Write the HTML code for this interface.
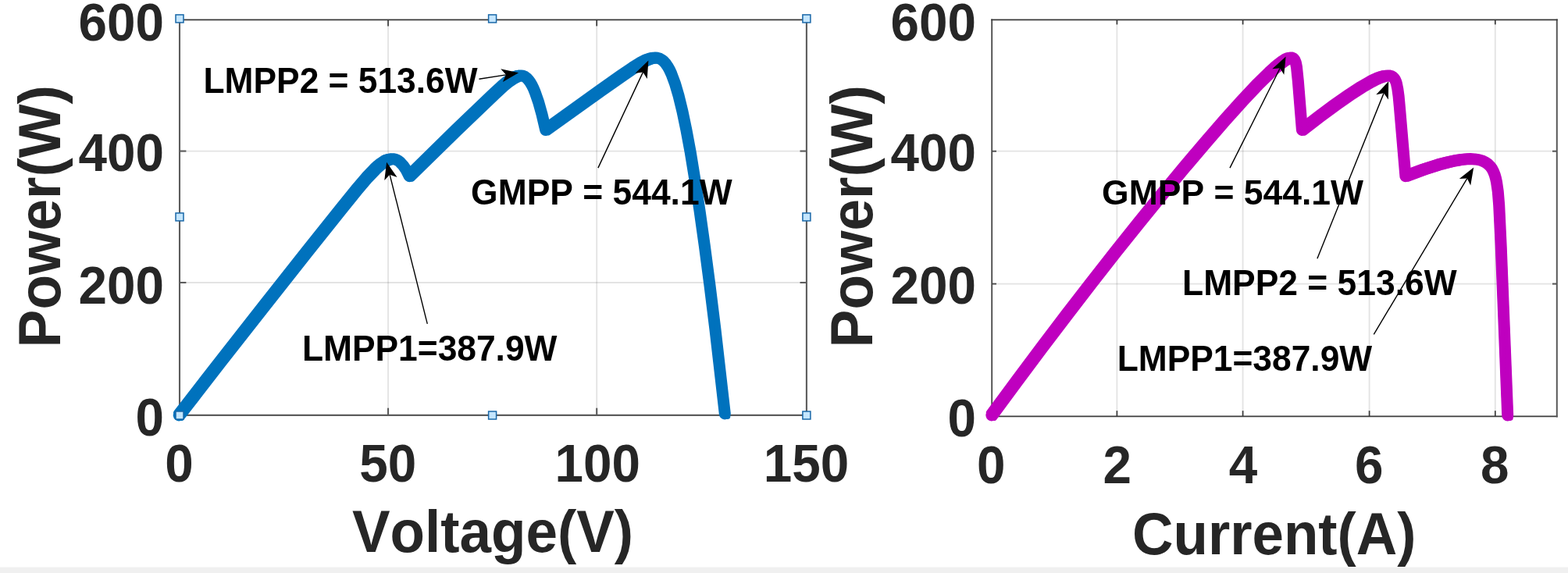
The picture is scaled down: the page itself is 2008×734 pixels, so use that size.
<!DOCTYPE html>
<html lang="en"><head><meta charset="utf-8"><title>P-V and P-I curves</title>
<style>
html,body{margin:0;padding:0;background:#fff;width:2008px;height:734px;overflow:hidden}
svg{display:block;font-family:"Liberation Sans",Arial,Helvetica,sans-serif;font-weight:bold;font-kerning:none}
text{font-kerning:none;white-space:pre}
</style></head><body>
<svg width="2008" height="734" viewBox="0 0 2008 734">
<rect width="2008" height="734" fill="#fff"/>
<rect x="0" y="726.6" width="2008" height="8" fill="#f0f0f0"/>
<text transform="translate(100.44 52.00) scale(1 1.0480)" font-size="65.60" fill="#262626">600</text><text transform="translate(100.44 219.40) scale(1 1.0480)" font-size="65.60" fill="#262626">400</text><text transform="translate(100.44 389.40) scale(1 1.0480)" font-size="65.60" fill="#262626">200</text><text transform="translate(173.41 558.10) scale(1 1.0480)" font-size="65.60" fill="#262626">0</text><text transform="translate(211.31 617.40) scale(1 1.0480)" font-size="65.60" fill="#262626">0</text><text transform="translate(460.30 617.40) scale(1 1.0480)" font-size="65.60" fill="#262626">50</text><text transform="translate(710.55 617.40) scale(1 1.0480)" font-size="65.60" fill="#262626">100</text><text transform="translate(977.85 617.40) scale(1 1.0480)" font-size="65.60" fill="#262626">150</text><text transform="translate(451.00 707.40) scale(1 1.0458)" font-size="72.83" fill="#262626">Voltage(V)</text><text transform="translate(77.30 445.17) rotate(-90) scale(1 1.0495)" font-size="72.85" fill="#262626">Power(W)</text><text transform="translate(1140.44 52.00) scale(1 1.0480)" font-size="65.60" fill="#262626">600</text><text transform="translate(1140.44 219.40) scale(1 1.0480)" font-size="65.60" fill="#262626">400</text><text transform="translate(1140.44 389.40) scale(1 1.0480)" font-size="65.60" fill="#262626">200</text><text transform="translate(1213.41 558.80) scale(1 1.0480)" font-size="65.60" fill="#262626">0</text><text transform="translate(1251.06 619.00) scale(1 1.0480)" font-size="65.60" fill="#262626">0</text><text transform="translate(1412.58 619.00) scale(1 1.0480)" font-size="65.60" fill="#262626">2</text><text transform="translate(1573.69 619.00) scale(1 1.0480)" font-size="65.60" fill="#262626">4</text><text transform="translate(1734.94 619.00) scale(1 1.0480)" font-size="65.60" fill="#262626">6</text><text transform="translate(1895.93 619.00) scale(1 1.0480)" font-size="65.60" fill="#262626">8</text><text transform="translate(1450.02 709.80) scale(1 1.0475)" font-size="72.71" fill="#262626">Current(A)</text><text transform="translate(1117.30 445.17) rotate(-90) scale(1 1.0495)" font-size="72.85" fill="#262626">Power(W)</text><line x1="497.05" y1="25.40" x2="497.05" y2="531.85" stroke="#262626" stroke-opacity="0.13" stroke-width="1.8"/><line x1="764.20" y1="25.40" x2="764.20" y2="531.85" stroke="#262626" stroke-opacity="0.13" stroke-width="1.8"/><line x1="230.00" y1="362.00" x2="1032.90" y2="362.00" stroke="#262626" stroke-opacity="0.13" stroke-width="1.8"/><line x1="230.00" y1="193.55" x2="1032.90" y2="193.55" stroke="#262626" stroke-opacity="0.13" stroke-width="1.8"/><line x1="230.00" y1="24.60" x2="230.00" y2="532.85" stroke="#5c5c5c" stroke-width="2.1"/><line x1="229.00" y1="531.85" x2="1033.90" y2="531.85" stroke="#5c5c5c" stroke-width="2.1"/><line x1="1032.90" y1="24.60" x2="1032.90" y2="532.85" stroke="#5c5c5c" stroke-width="2.1"/><line x1="229.00" y1="25.40" x2="1033.90" y2="25.40" stroke="#3a3a3a" stroke-width="1.7"/><path d="M497.05 531.85v-9.2" stroke="#5c5c5c" stroke-width="2.1"/><path d="M497.05 25.40v8.0" stroke="#3a3a3a" stroke-width="1.7"/><path d="M764.20 531.85v-9.2" stroke="#5c5c5c" stroke-width="2.1"/><path d="M764.20 25.40v8.0" stroke="#3a3a3a" stroke-width="1.7"/><path d="M230.00 362.00h8.4" stroke="#5c5c5c" stroke-width="2.1"/><path d="M1032.90 362.00h-8.4" stroke="#5c5c5c" stroke-width="2.1"/><path d="M230.00 193.55h8.4" stroke="#5c5c5c" stroke-width="2.1"/><path d="M1032.90 193.55h-8.4" stroke="#5c5c5c" stroke-width="2.1"/><g fill="none" stroke="#0072bd" stroke-linejoin="round" stroke-linecap="round"><path stroke-width="15.00" d="M229.2 531.9 L282.7 462.9 L336.3 394.5 L392.5 323.3 L438.0 266.2 L457.2 242.6 L470.2 227.3 L480.3 216.7 L484.6 212.7 L488.5 209.6 L494.0 206.0 L496.6 204.8 L499.0 204.1 L501.4 203.7 L503.6 203.7 L505.9 204.1 L508.0 204.8 L510.2 206.0 L512.2 207.6 L516.3 212.0 L520.3 217.9 L524.2 225.7 L584.5 166.6 L633.6 119.6 L643.4 110.6 L650.7 104.6 L656.6 100.5 L661.5 98.0 L664.4 97.1 L667.0 96.9 L669.6 97.2 L672.0 98.2 L674.3 99.8 L676.5 102.1 L678.7 105.0 L680.9 108.6 L683.1 113.0 L685.2 118.1 L689.6 130.8 L694.0 146.5 L698.7 166.5 L768.6 116.3 L795.4 97.5 L811.0 86.8 L820.7 80.7 L828.0 76.9 L834.0 74.7 L836.7 74.2 L839.2 74.0 L842.2 74.3 L845.0 75.2 L847.7 76.7 L850.2 78.8 L852.7 81.7 L855.1 85.2 L857.5 89.5 L859.8 94.5 L864.5 107.2 L869.2 123.2 L874.0 143.0 L878.9 166.6 L884.4 196.2 L890.0 230.6 L896.0 269.8 L902.2 314.0 L908.9 365.0 L915.9 421.5 L928.3 529.9"/><path stroke-width="6.80" transform="translate(-3.60 -3.60)" d="M229.2 531.9 L282.7 462.9 L336.3 394.5 L392.5 323.3 L438.0 266.2 L457.2 242.6 L470.2 227.3 L480.3 216.7 L484.6 212.7 L488.5 209.6 L494.0 206.0 L496.6 204.8 L499.0 204.1 L501.4 203.7 L503.6 203.7 L505.9 204.1 L508.0 204.8 L510.2 206.0 L512.2 207.6 L516.3 212.0 L520.3 217.9 L524.2 225.7 L584.5 166.6 L633.6 119.6 L643.4 110.6 L650.7 104.6 L656.6 100.5 L661.5 98.0 L664.4 97.1 L667.0 96.9 L669.6 97.2 L672.0 98.2 L674.3 99.8 L676.5 102.1 L678.7 105.0 L680.9 108.6 L683.1 113.0 L685.2 118.1 L689.6 130.8 L694.0 146.5 L698.7 166.5 L768.6 116.3 L795.4 97.5 L811.0 86.8 L820.7 80.7 L828.0 76.9 L834.0 74.7 L836.7 74.2 L839.2 74.0 L842.2 74.3 L845.0 75.2 L847.7 76.7 L850.2 78.8 L852.7 81.7 L855.1 85.2 L857.5 89.5 L859.8 94.5 L864.5 107.2 L869.2 123.2 L874.0 143.0 L878.9 166.6 L884.4 196.2 L890.0 230.6 L896.0 269.8 L902.2 314.0 L908.9 365.0 L915.9 421.5 L928.3 529.9"/><path stroke-width="6.80" transform="translate(3.60 3.60)" d="M229.2 531.9 L282.7 462.9 L336.3 394.5 L392.5 323.3 L438.0 266.2 L457.2 242.6 L470.2 227.3 L480.3 216.7 L484.6 212.7 L488.5 209.6 L494.0 206.0 L496.6 204.8 L499.0 204.1 L501.4 203.7 L503.6 203.7 L505.9 204.1 L508.0 204.8 L510.2 206.0 L512.2 207.6 L516.3 212.0 L520.3 217.9 L524.2 225.7 L584.5 166.6 L633.6 119.6 L643.4 110.6 L650.7 104.6 L656.6 100.5 L661.5 98.0 L664.4 97.1 L667.0 96.9 L669.6 97.2 L672.0 98.2 L674.3 99.8 L676.5 102.1 L678.7 105.0 L680.9 108.6 L683.1 113.0 L685.2 118.1 L689.6 130.8 L694.0 146.5 L698.7 166.5 L768.6 116.3 L795.4 97.5 L811.0 86.8 L820.7 80.7 L828.0 76.9 L834.0 74.7 L836.7 74.2 L839.2 74.0 L842.2 74.3 L845.0 75.2 L847.7 76.7 L850.2 78.8 L852.7 81.7 L855.1 85.2 L857.5 89.5 L859.8 94.5 L864.5 107.2 L869.2 123.2 L874.0 143.0 L878.9 166.6 L884.4 196.2 L890.0 230.6 L896.0 269.8 L902.2 314.0 L908.9 365.0 L915.9 421.5 L928.3 529.9"/></g><text transform="translate(260.53 118.80) scale(1 1.0262)" font-size="44.33" fill="#000">LMPP2 = 513.6W</text><text transform="translate(603.08 262.20) scale(1 1.0371)" font-size="44.43" fill="#000">GMPP = 544.1W</text><text transform="translate(386.93 461.75) scale(1 1.0304)" font-size="44.36" fill="#000">LMPP1=387.9W</text><line x1="1430.40" y1="25.40" x2="1430.40" y2="533.45" stroke="#262626" stroke-opacity="0.13" stroke-width="1.8"/><line x1="1591.60" y1="25.40" x2="1591.60" y2="533.45" stroke="#262626" stroke-opacity="0.13" stroke-width="1.8"/><line x1="1753.60" y1="25.40" x2="1753.60" y2="533.45" stroke="#262626" stroke-opacity="0.13" stroke-width="1.8"/><line x1="1914.80" y1="25.40" x2="1914.80" y2="533.45" stroke="#262626" stroke-opacity="0.13" stroke-width="1.8"/><line x1="1270.20" y1="363.60" x2="1993.80" y2="363.60" stroke="#262626" stroke-opacity="0.13" stroke-width="1.8"/><line x1="1270.20" y1="193.70" x2="1993.80" y2="193.70" stroke="#262626" stroke-opacity="0.13" stroke-width="1.8"/><line x1="1270.20" y1="24.60" x2="1270.20" y2="534.45" stroke="#484848" stroke-width="1.8"/><line x1="1269.20" y1="533.45" x2="1994.80" y2="533.45" stroke="#3c3c3c" stroke-width="1.7"/><line x1="1993.80" y1="24.60" x2="1993.80" y2="534.45" stroke="#585858" stroke-width="2.0"/><line x1="1269.20" y1="25.40" x2="1994.80" y2="25.40" stroke="#3a3a3a" stroke-width="1.7"/><path d="M1430.40 533.45v-7.3" stroke="#3c3c3c" stroke-width="1.7"/><path d="M1430.40 25.40v6.0" stroke="#3a3a3a" stroke-width="1.7"/><path d="M1591.60 533.45v-7.3" stroke="#3c3c3c" stroke-width="1.7"/><path d="M1591.60 25.40v6.0" stroke="#3a3a3a" stroke-width="1.7"/><path d="M1753.60 533.45v-7.3" stroke="#3c3c3c" stroke-width="1.7"/><path d="M1753.60 25.40v6.0" stroke="#3a3a3a" stroke-width="1.7"/><path d="M1914.80 533.45v-7.3" stroke="#3c3c3c" stroke-width="1.7"/><path d="M1914.80 25.40v6.0" stroke="#3a3a3a" stroke-width="1.7"/><path d="M1270.20 363.60h5.8" stroke="#484848" stroke-width="1.8"/><path d="M1993.80 363.60h-5.8" stroke="#585858" stroke-width="2.0"/><path d="M1270.20 193.70h5.8" stroke="#484848" stroke-width="1.8"/><path d="M1993.80 193.70h-5.8" stroke="#585858" stroke-width="2.0"/><g fill="none" stroke="#bf00bf" stroke-linejoin="round" stroke-linecap="round"><path stroke-width="15.00" d="M1930.7 531.9 L1922.1 313.2 L1919.7 262.9 L1918.3 245.5 L1916.5 233.1 L1915.4 228.1 L1914.1 223.6 L1912.5 219.7 L1910.8 216.3 L1908.2 212.8 L1905.3 210.0 L1901.9 207.7 L1898.0 205.9 L1893.5 204.6 L1888.5 203.9 L1882.8 203.6 L1876.4 203.9 L1869.3 204.8 L1861.6 206.2 L1853.1 208.1 L1843.9 210.5 L1823.4 217.0 L1799.9 225.7 L1792.4 137.4 L1791.1 123.3 L1789.9 114.4 L1788.4 106.9 L1787.5 104.2 L1786.5 101.9 L1785.2 100.1 L1783.8 98.7 L1782.1 97.7 L1780.2 97.1 L1777.5 96.9 L1774.2 97.2 L1770.5 98.1 L1766.3 99.6 L1761.4 101.7 L1755.9 104.5 L1743.3 111.7 L1728.1 121.6 L1710.2 134.1 L1690.1 149.0 L1667.4 166.5 L1662.3 103.4 L1660.5 86.0 L1659.4 80.3 L1657.9 76.7 L1657.0 75.5 L1656.0 74.6 L1654.8 74.1 L1653.4 74.0 L1650.6 74.5 L1647.2 76.0 L1643.1 78.6 L1638.3 82.2 L1632.6 87.0 L1626.1 92.9 L1610.5 108.3 L1591.1 128.9 L1568.6 153.9 L1543.5 182.8 L1516.2 215.0 L1488.1 248.9 L1458.8 285.0 L1428.5 322.9 L1397.6 362.4 L1366.1 403.2 L1334.3 445.1 L1302.2 488.1 L1269.9 531.9"/><path stroke-width="6.80" transform="translate(-3.60 -3.60)" d="M1930.7 531.9 L1922.1 313.2 L1919.7 262.9 L1918.3 245.5 L1916.5 233.1 L1915.4 228.1 L1914.1 223.6 L1912.5 219.7 L1910.8 216.3 L1908.2 212.8 L1905.3 210.0 L1901.9 207.7 L1898.0 205.9 L1893.5 204.6 L1888.5 203.9 L1882.8 203.6 L1876.4 203.9 L1869.3 204.8 L1861.6 206.2 L1853.1 208.1 L1843.9 210.5 L1823.4 217.0 L1799.9 225.7 L1792.4 137.4 L1791.1 123.3 L1789.9 114.4 L1788.4 106.9 L1787.5 104.2 L1786.5 101.9 L1785.2 100.1 L1783.8 98.7 L1782.1 97.7 L1780.2 97.1 L1777.5 96.9 L1774.2 97.2 L1770.5 98.1 L1766.3 99.6 L1761.4 101.7 L1755.9 104.5 L1743.3 111.7 L1728.1 121.6 L1710.2 134.1 L1690.1 149.0 L1667.4 166.5 L1662.3 103.4 L1660.5 86.0 L1659.4 80.3 L1657.9 76.7 L1657.0 75.5 L1656.0 74.6 L1654.8 74.1 L1653.4 74.0 L1650.6 74.5 L1647.2 76.0 L1643.1 78.6 L1638.3 82.2 L1632.6 87.0 L1626.1 92.9 L1610.5 108.3 L1591.1 128.9 L1568.6 153.9 L1543.5 182.8 L1516.2 215.0 L1488.1 248.9 L1458.8 285.0 L1428.5 322.9 L1397.6 362.4 L1366.1 403.2 L1334.3 445.1 L1302.2 488.1 L1269.9 531.9"/><path stroke-width="6.80" transform="translate(3.60 3.60)" d="M1930.7 531.9 L1922.1 313.2 L1919.7 262.9 L1918.3 245.5 L1916.5 233.1 L1915.4 228.1 L1914.1 223.6 L1912.5 219.7 L1910.8 216.3 L1908.2 212.8 L1905.3 210.0 L1901.9 207.7 L1898.0 205.9 L1893.5 204.6 L1888.5 203.9 L1882.8 203.6 L1876.4 203.9 L1869.3 204.8 L1861.6 206.2 L1853.1 208.1 L1843.9 210.5 L1823.4 217.0 L1799.9 225.7 L1792.4 137.4 L1791.1 123.3 L1789.9 114.4 L1788.4 106.9 L1787.5 104.2 L1786.5 101.9 L1785.2 100.1 L1783.8 98.7 L1782.1 97.7 L1780.2 97.1 L1777.5 96.9 L1774.2 97.2 L1770.5 98.1 L1766.3 99.6 L1761.4 101.7 L1755.9 104.5 L1743.3 111.7 L1728.1 121.6 L1710.2 134.1 L1690.1 149.0 L1667.4 166.5 L1662.3 103.4 L1660.5 86.0 L1659.4 80.3 L1657.9 76.7 L1657.0 75.5 L1656.0 74.6 L1654.8 74.1 L1653.4 74.0 L1650.6 74.5 L1647.2 76.0 L1643.1 78.6 L1638.3 82.2 L1632.6 87.0 L1626.1 92.9 L1610.5 108.3 L1591.1 128.9 L1568.6 153.9 L1543.5 182.8 L1516.2 215.0 L1488.1 248.9 L1458.8 285.0 L1428.5 322.9 L1397.6 362.4 L1366.1 403.2 L1334.3 445.1 L1302.2 488.1 L1269.9 531.9"/></g><text transform="translate(1411.08 262.30) scale(1 1.0160)" font-size="44.49" fill="#000">GMPP = 544.1W</text><text transform="translate(1514.03 377.80) scale(1 1.0378)" font-size="44.40" fill="#000">LMPP2 = 513.6W</text><text transform="translate(1430.63 474.90) scale(1 1.0353)" font-size="44.36" fill="#000">LMPP1=387.9W</text><line x1="613.50" y1="101.20" x2="647.95" y2="95.82" stroke="#000" stroke-width="1.40"/><polygon points="664.10,93.30 643.86,104.96 647.95,95.82 641.27,88.36" fill="#000"/><line x1="765.90" y1="215.10" x2="823.46" y2="92.40" stroke="#000" stroke-width="1.40"/><polygon points="830.40,77.60 828.75,100.90 823.46,92.40 813.54,93.77" fill="#000"/><line x1="547.30" y1="414.90" x2="499.10" y2="223.65" stroke="#000" stroke-width="1.40"/><polygon points="495.10,207.80 508.57,226.89 499.10,223.65 492.28,230.99" fill="#000"/><line x1="1575.00" y1="215.10" x2="1639.26" y2="87.21" stroke="#000" stroke-width="1.40"/><polygon points="1646.60,72.60 1644.32,95.85 1639.26,87.21 1629.31,88.31" fill="#000"/><line x1="1686.90" y1="331.20" x2="1772.10" y2="119.37" stroke="#000" stroke-width="1.40"/><polygon points="1778.20,104.20 1777.86,127.56 1772.10,119.37 1762.27,121.29" fill="#000"/><line x1="1759.30" y1="428.30" x2="1878.81" y2="228.53" stroke="#000" stroke-width="1.40"/><polygon points="1887.20,214.50 1883.22,237.52 1878.81,228.53 1868.80,228.90" fill="#000"/><rect x="225.00" y="18.90" width="10" height="10" fill="#c4e6ff" stroke="#1a68a8" stroke-width="1.5"/><rect x="225.00" y="272.90" width="10" height="10" fill="#c4e6ff" stroke="#1a68a8" stroke-width="1.5"/><rect x="225.00" y="527.00" width="10" height="10" fill="#c4e6ff" stroke="#1a68a8" stroke-width="1.5"/><rect x="625.60" y="18.90" width="10" height="10" fill="#c4e6ff" stroke="#1a68a8" stroke-width="1.5"/><rect x="625.60" y="527.00" width="10" height="10" fill="#c4e6ff" stroke="#1a68a8" stroke-width="1.5"/><rect x="1027.90" y="18.90" width="10" height="10" fill="#c4e6ff" stroke="#1a68a8" stroke-width="1.5"/><rect x="1027.90" y="272.90" width="10" height="10" fill="#c4e6ff" stroke="#1a68a8" stroke-width="1.5"/><rect x="1027.90" y="527.00" width="10" height="10" fill="#c4e6ff" stroke="#1a68a8" stroke-width="1.5"/>
</svg>
</body></html>
